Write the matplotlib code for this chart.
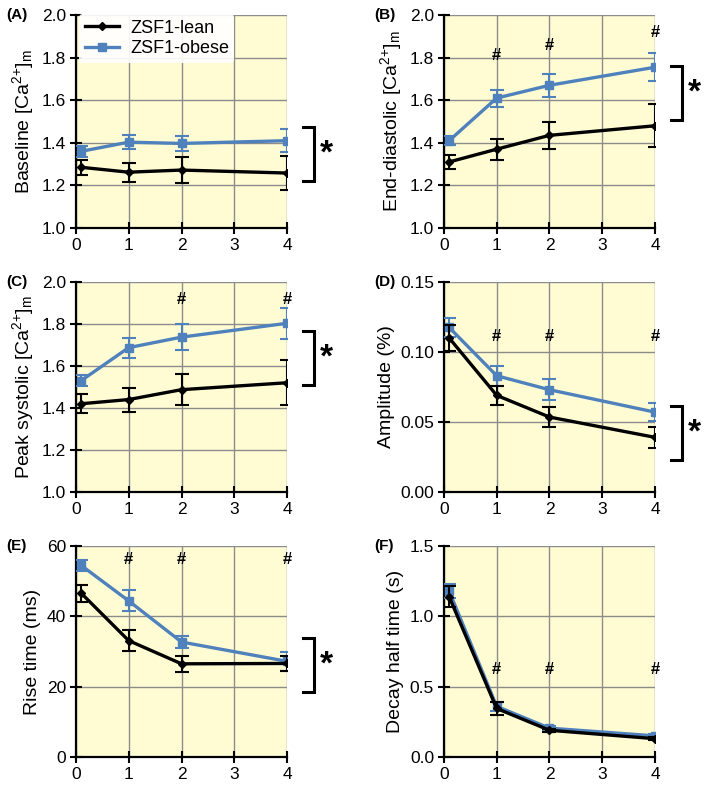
import matplotlib.pyplot as plt
from matplotlib.lines import Line2D

plt.rcParams['font.family'] = ['Liberation Sans', 'DejaVu Sans']
plt.rcParams['mathtext.fontset'] = 'custom'
plt.rcParams['mathtext.rm'] = 'Liberation Sans'
plt.rcParams['mathtext.it'] = 'Liberation Sans'
plt.rcParams['mathtext.bf'] = 'Liberation Sans:bold'

x = [0.1, 1, 2, 4]

# (A) Baseline
a_lean = [1.285, 1.262, 1.272, 1.258]
a_lean_err = [0.035, 0.045, 0.06, 0.08]
a_obese = [1.36, 1.403, 1.397, 1.41]
a_obese_err = [0.025, 0.032, 0.037, 0.055]

# (B) End-diastolic
b_lean = [1.31, 1.37, 1.435, 1.48]
b_lean_err = [0.035, 0.05, 0.065, 0.1]
b_obese = [1.41, 1.61, 1.67, 1.755]
b_obese_err = [0.02, 0.04, 0.055, 0.065]

# (C) Peak systolic
c_lean = [1.42, 1.44, 1.487, 1.52]
c_lean_err = [0.045, 0.057, 0.073, 0.107]
c_obese = [1.53, 1.687, 1.737, 1.803]
c_obese_err = [0.027, 0.048, 0.063, 0.075]

# (D) Amplitude
d_lean = [0.110, 0.069, 0.0535, 0.039]
d_lean_err = [0.0095, 0.007, 0.007, 0.0075]
d_obese = [0.1175, 0.083, 0.073, 0.057]
d_obese_err = [0.0065, 0.007, 0.0075, 0.0065]

# (E) Rise time
e_lean = [46.6, 33.1, 26.5, 26.6]
e_lean_err = [2.4, 2.9, 2.3, 2.1]
e_obese = [54.5, 44.4, 32.7, 27.2]
e_obese_err = [1.5, 3.0, 1.8, 2.7]

# (F) Decay half time
f_lean = [1.14, 0.345, 0.19, 0.13]
f_lean_err = [0.075, 0.045, 0.012, 0.01]
f_obese = [1.18, 0.36, 0.205, 0.15]
f_obese_err = [0.05, 0.03, 0.012, 0.012]

ca = r'[Ca$^{\mathregular{2{+}}}$]$_{\mathregular{m}}$'
panels = [
    ('(A)', 'Baseline ' + ca, a_lean, a_lean_err, a_obese, a_obese_err,
     (1.0, 2.0), [1.0, 1.2, 1.4, 1.6, 1.8, 2.0], '%.1f', [], None, (1.22, 1.475)),
    ('(B)', 'End-diastolic ' + ca, b_lean, b_lean_err, b_obese, b_obese_err,
     (1.0, 2.0), [1.0, 1.2, 1.4, 1.6, 1.8, 2.0], '%.1f', [1, 2, 4], [1.81, 1.855, 1.92], (1.505, 1.76)),
    ('(C)', 'Peak systolic ' + ca, c_lean, c_lean_err, c_obese, c_obese_err,
     (1.0, 2.0), [1.0, 1.2, 1.4, 1.6, 1.8, 2.0], '%.1f', [2, 4], [1.915, 1.915], (1.507, 1.764)),
    ('(D)', 'Amplitude (%)', d_lean, d_lean_err, d_obese, d_obese_err,
     (0.0, 0.15), [0.0, 0.05, 0.10, 0.15], '%.2f', [1, 2, 4], [0.111, 0.111, 0.111], (0.023, 0.0617)),
    ('(E)', 'Rise time (ms)', e_lean, e_lean_err, e_obese, e_obese_err,
     (0, 60), [0, 20, 40, 60], '%d', [1, 2, 4], [56.3, 56.3, 56.3], (18.4, 33.9)),
    ('(F)', 'Decay half time (s)', f_lean, f_lean_err, f_obese, f_obese_err,
     (0.0, 1.5), [0.0, 0.5, 1.0, 1.5], '%.1f', [1, 2, 4], [0.625, 0.625, 0.625], None),
]

blue = '#4F81BD'
bg = '#FFFCD4'

fig = plt.figure(figsize=(7.09, 7.90), dpi=100)

lefts = [0.107, 0.626]
bottoms = [0.7114, 0.3772, 0.0418]
heights = [0.2696, 0.266, 0.267]

for i, (tag, ylabel, lean, lean_err, obese, obese_err, ylim, yticks, fmt,
        hash_x, hash_y, bracket) in enumerate(panels):
    row, col = divmod(i, 2)
    ax = fig.add_axes([lefts[col], bottoms[row], 0.298, heights[row]])
    ax.set_facecolor(bg)

    ax.errorbar(x, lean, yerr=lean_err, color='black', marker='D', markersize=4,
                lw=2.4, capsize=5, capthick=1.5, elinewidth=1.5, zorder=4)
    ax.errorbar(x, obese, yerr=obese_err, color=blue, marker='s', markersize=6,
                lw=2.4, capsize=5, capthick=1.5, elinewidth=1.5, zorder=3)

    ax.set_xlim(0, 4)
    ax.set_ylim(*ylim)
    ax.set_xticks([0, 1, 2, 3, 4])
    ax.set_yticks(yticks)
    ax.set_yticklabels([fmt % t for t in yticks])
    ax.grid(True, color='#8C8C8C', lw=1)
    ax.set_axisbelow(True)
    for s in ['top', 'right']:
        ax.spines[s].set_visible(False)
    for s in ['left', 'bottom']:
        ax.spines[s].set_linewidth(1.6)
    ax.tick_params(direction='inout', length=8, width=1.5, labelsize=12.5, pad=3)
    ax.set_ylabel(ylabel, fontsize=14, labelpad=4)

    ax.text(-0.33, 1.0, tag, transform=ax.transAxes, fontsize=11, fontweight='bold',
            ha='left', va='center')

    for hx, hy in zip(hash_x, hash_y if hash_y else []):
        ax.text(hx, hy, '#', ha='center', va='center', fontsize=12, fontweight='bold')

    if bracket is not None:
        y0, y1 = bracket
        bx = 4.5
        ax.plot([bx - 0.2, bx, bx, bx - 0.2], [y0, y0, y1, y1], color='black', lw=2.2,
                clip_on=False, solid_joinstyle='miter')
        ax.text(bx + 0.25, (y0 + y1) / 2, '*', ha='center', va='center', fontsize=24,
                fontweight='bold', clip_on=False)

    if i == 0:
        handles = [Line2D([], [], color='black', marker='D', markersize=4, lw=2.4),
                   Line2D([], [], color=blue, marker='s', markersize=6, lw=2.4)]
        ax.legend(handles, ['ZSF1-lean', 'ZSF1-obese'], loc='upper left',
                  bbox_to_anchor=(0.0, 1.02), fontsize=13, frameon=True,
                  facecolor='white', edgecolor='none', framealpha=0.9, handlelength=1.9,
                  handletextpad=0.6, borderpad=0.3, labelspacing=0.2, borderaxespad=0.2)

fig.savefig('out.png', dpi=100)
